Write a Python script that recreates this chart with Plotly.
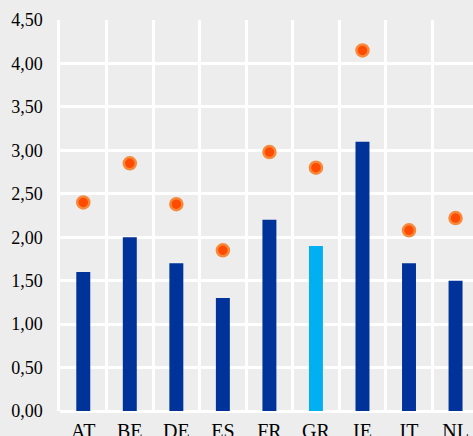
import plotly.graph_objects as go

countries = ["AT", "BE", "DE", "ES", "FR", "GR", "IE", "IT", "NL"]
bar_values = [1.60, 2.00, 1.70, 1.30, 2.20, 1.90, 3.10, 1.70, 1.50]
dot_values = [2.40, 2.85, 2.38, 1.85, 2.98, 2.80, 4.15, 2.08, 2.22]
bar_colors = ["#003399", "#003399", "#003399", "#003399", "#003399",
              "#00b0f0", "#003399", "#003399", "#003399"]
y_ticks = [0, 0.5, 1, 1.5, 2, 2.5, 3, 3.5, 4, 4.5]

BG = "#ededed"
FONT = dict(family="Liberation Serif", size=18, color="#000000")
XFONT = dict(family="Liberation Serif", size=20, color="#000000")

fig = go.Figure()
fig.add_trace(go.Bar(
    x=countries, y=bar_values, width=0.3,
    marker=dict(color=bar_colors, line=dict(width=0)),
    showlegend=False, hoverinfo="skip",
))
fig.add_trace(go.Scatter(
    x=countries, y=dot_values, mode="markers",
    marker=dict(size=12, color="#ff4a00", line=dict(color="#f58a3c", width=2.5)),
    showlegend=False, hoverinfo="skip",
))

fig.update_layout(
    width=473, height=436,
    margin=dict(l=60, r=0, t=20, b=25, autoexpand=False),
    paper_bgcolor=BG, plot_bgcolor=BG,
    separators=", ",
    font=FONT,
    xaxis=dict(
        type="category", range=[-0.5, 8.375], automargin=False,
        tickson="boundaries", showgrid=True, gridcolor="#ffffff", gridwidth=2.5,
        ticks="", ticklabelstandoff=6,
        showline=False, zeroline=False, tickfont=XFONT,
    ),
    yaxis=dict(
        range=[0, 4.5], tickvals=y_ticks, tickformat=".2f", automargin=False,
        showgrid=True, gridcolor="#ffffff", gridwidth=2.5,
        zeroline=True, zerolinecolor="#ffffff", zerolinewidth=2.5,
        ticks="outside", ticklen=11, tickcolor="rgba(0,0,0,0)",
        showline=True, linecolor="#ffffff", linewidth=2.5, tickfont=FONT,
    ),
)

fig.write_html(
    "out.html",
    config={"displayModeBar": False},
    post_script="document.body.style.margin='0';document.body.style.overflow='hidden';document.body.style.background='%s';" % BG,
)
